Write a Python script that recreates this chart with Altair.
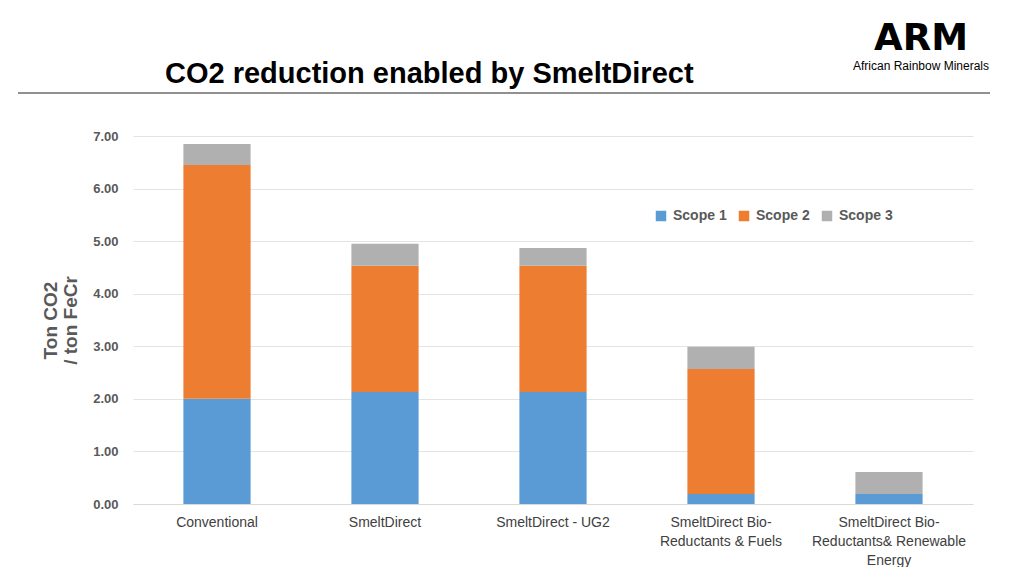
import altair as alt
import pandas as pd

categories = ["Conventional", "SmeltDirect", "SmeltDirect - UG2",
              "SmeltDirect  Bio-|Reductants & Fuels",
              "SmeltDirect  Bio-|Reductants& Renewable|Energy"]
scope1 = [2.00, 2.13, 2.13, 0.19, 0.19]
scope2 = [4.45, 2.40, 2.40, 2.38, 0.00]
scope3 = [0.40, 0.42, 0.34, 0.42, 0.42]
series = ["Scope 1", "Scope 2", "Scope 3"]
colors = ["#5B9BD5", "#ED7D31", "#B0B0B0"]

rows = []
for i, c in enumerate(categories):
    for k, (s, vals) in enumerate(zip(series, [scope1, scope2, scope3])):
        rows.append({"cat": c, "series": s, "value": vals[i], "ord": k})
df = pd.DataFrame(rows)

W, H = 840, 368

bars = alt.Chart(df).mark_bar().encode(
    x=alt.X("cat:N", sort=categories, title=None,
            scale=alt.Scale(paddingInner=0.6, paddingOuter=0.3),
            axis=alt.Axis(labelExpr="split(datum.label, '|')", labelAngle=0,
                          labelFont="Liberation Sans Narrow, Arial Narrow, Liberation Sans, sans-serif",
                          labelFontSize=14, labelColor="#404040", labelPadding=11,
                          labelLineHeight=19, ticks=False, domainColor="#D9D9D9",
                          labelBaseline="top", grid=False)),
    y=alt.Y("value:Q", stack="zero",
            scale=alt.Scale(domain=[0, 7], nice=False),
            title=["Ton CO2", "/ ton FeCr"],
            axis=alt.Axis(values=[0, 1, 2, 3, 4, 5, 6, 7], format=".2f",
                          labelFont="Liberation Sans", labelFontWeight="bold",
                          labelFontSize=13, labelColor="#595959", labelPadding=15,
                          ticks=False, domain=False, gridColor="#E3E3E3",
                          titleFont="Liberation Sans", titleFontSize=19,
                          titleFontWeight="bold", titleColor="#595959",
                          titlePadding=12, titleLineHeight=20)),
    color=alt.Color("series:N", sort=series,
                    scale=alt.Scale(domain=series, range=colors),
                    legend=alt.Legend(title=None, orient="none", direction="horizontal",
                                      legendX=521, legendY=73, symbolType="square",
                                      symbolSize=110, symbolStrokeWidth=0,
                                      labelFont="Liberation Sans", labelFontSize=14,
                                      labelFontWeight="bold", labelColor="#595959",
                                      columnPadding=10, labelOffset=5)),
    order=alt.Order("ord:Q"),
)

title = alt.Chart(pd.DataFrame({"t": ["CO2 reduction enabled by SmeltDirect"]})).mark_text(
    font="Liberation Sans", fontSize=29, fontWeight="bold", color="#000000",
    align="left", baseline="alphabetic"
).encode(text="t:N", x=alt.value(32), y=alt.value(-53))

rule = alt.Chart(pd.DataFrame({"a": [0]})).mark_rule(color="#222222", strokeWidth=1).encode(
    x=alt.value(-115), x2=alt.value(857), y=alt.value(-43))

logo = alt.Chart(pd.DataFrame({"t": ["ARM"]})).mark_text(
    font="DejaVu Sans", fontSize=37, fontWeight="bold",
    color="#000000", align="center", baseline="alphabetic"
).encode(text="t:N", x=alt.value(788), y=alt.value(-86))

logo_sub = alt.Chart(pd.DataFrame({"t": ["African Rainbow Minerals"]})).mark_text(
    font="Liberation Sans", fontSize=12, color="#000000", align="center",
    baseline="alphabetic"
).encode(text="t:N", x=alt.value(788), y=alt.value(-66))

chart = alt.layer(bars, title, rule, logo, logo_sub).properties(
    width=W, height=H,
    background="#FFFFFF",
    autosize=alt.AutoSizeParams(type="none"),
    padding={"left": 125, "top": 128, "right": 41, "bottom": 63},
).configure_view(stroke="transparent", strokeWidth=0)

chart.save("out.html", embed_options={"renderer": "svg", "actions": False})
